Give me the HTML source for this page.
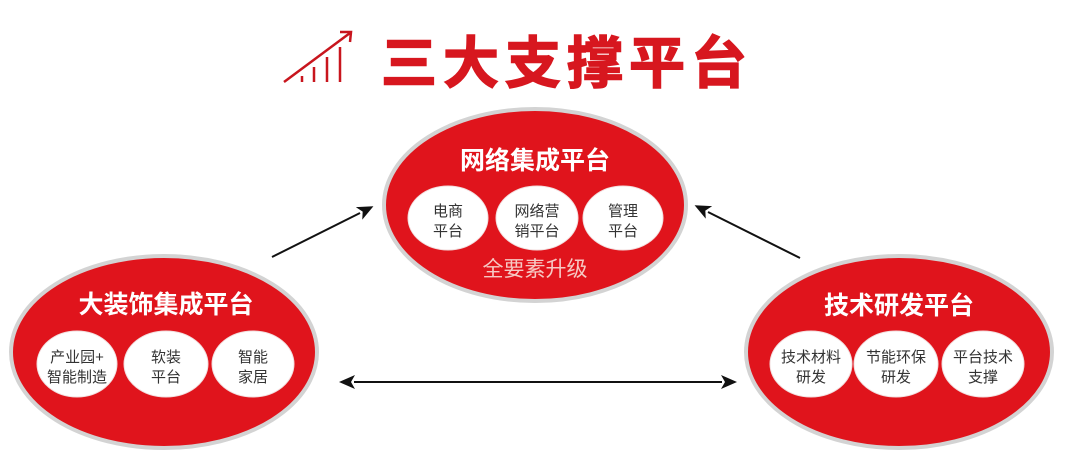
<!DOCTYPE html>
<html><head><meta charset="utf-8"><style>
html,body{margin:0;padding:0;background:#fff;}
svg{display:block;}
text{font-family:"Liberation Sans","Noto Sans CJK SC",sans-serif;}
</style></head><body>
<svg width="1075" height="467" viewBox="0 0 1075 467" xmlns="http://www.w3.org/2000/svg">
<defs>
<marker id="ahs" markerWidth="16" markerHeight="14" refX="1" refY="7" orient="auto-start-reverse" markerUnits="userSpaceOnUse" viewBox="0 0 16 14">
<path d="M16,7 L0,0 L4,7 L0,14 Z" fill="#111"/></marker>
</defs>
<!-- title icon -->
<g stroke="#c8151d" stroke-width="2.5" fill="none">
<path d="M284,82 L350,33"/><path d="M340,32 L351,32 L350,42"/>
<line x1="302" y1="82" x2="302" y2="76"/><line x1="314" y1="82" x2="314" y2="67"/>
<line x1="327" y1="82" x2="327" y2="57"/><line x1="340" y1="82" x2="340" y2="47"/>
</g>
<text x="567" y="83" font-size="56" font-weight="bold" fill="#d7171f" text-anchor="middle" letter-spacing="6" stroke="#d7171f" stroke-width="1.5">三大支撑平台</text>

<!-- arrows -->
<line x1="272" y1="257" x2="360" y2="213" stroke="#111" stroke-width="2" marker-end="url(#ahs)"/>
<line x1="800" y1="258" x2="708" y2="212" stroke="#111" stroke-width="2" marker-end="url(#ahs)"/>
<line x1="354" y1="382" x2="722" y2="382" stroke="#111" stroke-width="2" marker-end="url(#ahs)" marker-start="url(#ahs)"/>

<!-- ellipses -->
<g stroke="#d3d3d3" stroke-width="4" fill="#e0141c">
<ellipse cx="535" cy="205" rx="151" ry="96"/>
<ellipse cx="164" cy="352" rx="153" ry="96"/>
<ellipse cx="899" cy="352" rx="153" ry="96"/>
</g>
<g fill="#fff" text-anchor="middle" font-size="25" font-weight="bold">
<text x="535" y="169">网络集成平台</text>
<text x="166" y="313">大装饰集成平台</text>
<text x="899" y="314">技术研发平台</text>
</g>
<text x="535" y="276" fill="#f6c9c4" font-size="21" text-anchor="middle">全要素升级</text>

<g fill="#fff" stroke="#f2dede" stroke-width="1">
<ellipse cx="448" cy="218" rx="40" ry="32"/><ellipse cx="537" cy="218" rx="41" ry="32"/><ellipse cx="623" cy="218" rx="40" ry="32"/>
<ellipse cx="77" cy="364" rx="40" ry="33"/><ellipse cx="166" cy="364" rx="42" ry="33"/><ellipse cx="253" cy="364" rx="41" ry="33"/>
<ellipse cx="811" cy="364" rx="41" ry="33"/><ellipse cx="896" cy="364" rx="42" ry="33"/><ellipse cx="983" cy="364" rx="41" ry="33"/>
</g>
<g fill="#333" font-size="15" text-anchor="middle">
<text x="448" y="216">电商</text><text x="448" y="236">平台</text>
<text x="537" y="216">网络营</text><text x="537" y="236">销平台</text>
<text x="623" y="216">管理</text><text x="623" y="236">平台</text>
<text x="77" y="362">产业园+</text><text x="77" y="382">智能制造</text>
<text x="166" y="362">软装</text><text x="166" y="382">平台</text>
<text x="253" y="362">智能</text><text x="253" y="382">家居</text>
<text x="811" y="362">技术材料</text><text x="811" y="382">研发</text>
<text x="896" y="362">节能环保</text><text x="896" y="382">研发</text>
<text x="983" y="362">平台技术</text><text x="983" y="382">支撑</text>
</g>
</svg>
</body></html>
